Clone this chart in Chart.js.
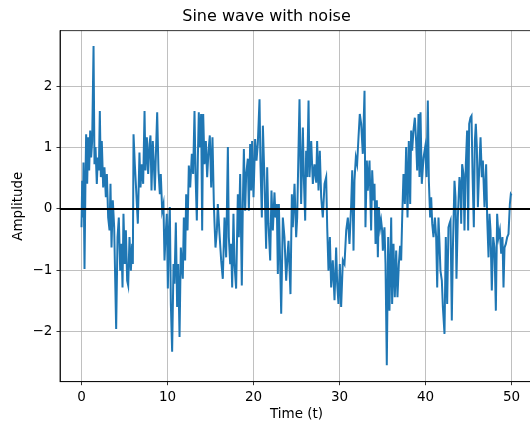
<!DOCTYPE html>
<html>
<head>
<meta charset="utf-8">
<script src="https://cdn.jsdelivr.net/npm/chart.js@4/dist/chart.umd.min.js"></script>
<style>
  html, body { margin: 0; padding: 0; background: #fff; }
  #wrap { width: 530px; height: 430px; overflow: hidden; }
</style>
</head>
<body>
<div id="wrap"><canvas id="sine_chart" width="545" height="430"></canvas></div>
<script>
// values
var time = [
  0, 0.08, 0.16, 0.23, 0.35, 0.47, 0.54, 0.66, 0.78, 0.89, 1.01, 1.12, 1.24, 1.40, 1.51, 1.63, 1.78, 1.90,
  2.02, 2.13, 2.25, 2.36, 2.52, 2.67, 2.83, 2.95, 3.10, 3.26, 3.37, 3.49, 3.64, 3.80, 4.03, 4.19, 4.34, 4.50,
  4.65, 4.77, 4.88, 5.04, 5.16, 5.31, 5.43, 5.58, 5.74, 5.89, 5.97, 6.05, 6.20, 6.36, 6.55,
  6.74, 6.86, 7.02, 7.17, 7.33, 7.44, 7.60, 7.75, 7.91, 8.02, 8.14, 8.29, 8.41, 8.53, 8.64, 8.80, 8.95,
  9.11, 9.22, 9.38, 9.53, 9.65, 9.77, 9.92, 10.04, 10.16, 10.27, 10.39, 10.54, 10.70, 10.81, 10.97, 11.12,
  11.24, 11.40, 11.55, 11.67, 11.78, 11.90, 12.05, 12.17, 12.33, 12.48, 12.64, 12.83, 12.98, 13.14, 13.26,
  13.41, 13.53, 13.64, 13.76, 13.91, 14.03, 14.15, 14.30, 14.46, 14.61, 14.77, 14.92, 15.08, 15.23, 15.39,
  15.47, 15.58, 15.74, 15.85, 16.05, 16.24, 16.43, 16.63, 16.82, 17.02, 17.13, 17.29, 17.40, 17.52, 17.67,
  17.79, 17.98, 18.18, 18.29, 18.45, 18.64, 18.76, 18.88, 19.03, 19.15, 19.34, 19.46, 19.61, 19.73, 19.84,
  20.00, 20.19, 20.35, 20.50, 20.70, 20.81, 20.97, 21.09, 21.28, 21.47, 21.59, 21.74, 21.94, 22.09, 22.25,
  22.44, 22.56, 22.71, 22.83, 22.95, 23.10, 23.22, 23.41, 23.60, 23.80, 23.99,
  24.07, 24.30, 24.46, 24.57, 24.77, 24.96, 25.08, 25.23, 25.35, 25.54, 25.74, 25.85, 26.01, 26.12, 26.24,
  26.40, 26.51, 26.71, 26.90, 27.09, 27.29, 27.40, 27.56, 27.71, 27.87, 28.06, 28.26, 28.45, 28.57, 28.72,
  28.88, 29.03, 29.22, 29.42, 29.61, 29.73, 29.88, 30.04, 30.19, 30.39, 30.58, 30.78, 30.97, 31.16, 31.36,
  31.48, 31.63, 31.74, 31.90, 32.05, 32.21, 32.36, 32.52,
  32.71, 32.91, 33.02, 33.18, 33.29, 33.49, 33.68, 33.80, 33.95, 34.07, 34.19, 34.34, 34.46, 34.57, 34.73,
  34.84, 34.96, 35.04, 35.23, 35.35, 35.50, 35.66, 35.81, 36.01, 36.12, 36.28, 36.43, 36.59, 36.74, 36.90,
  37.05, 37.17, 37.29, 37.44, 37.60, 37.75, 37.91, 38.06, 38.22, 38.33, 38.45, 38.60, 38.76, 38.91, 39.03,
  39.19, 39.30, 39.42, 39.57, 39.77, 39.96, 40.12, 40.27, 40.39, 40.54, 40.66, 40.78, 40.93, 41.09, 41.24,
  41.36, 41.51,
  41.63, 41.74, 41.90, 42.02, 42.21, 42.36, 42.52, 42.67, 42.79, 42.91, 43.06, 43.18, 43.37, 43.49, 43.60,
  43.76, 43.95, 44.07, 44.15, 44.26, 44.42, 44.53, 44.69, 44.84, 44.96, 45.08, 45.23, 45.35, 45.47, 45.62,
  45.74, 45.85, 45.97, 46.09, 46.24, 46.40, 46.55, 46.67, 46.86, 47.05, 47.17, 47.33, 47.44, 47.56, 47.71,
  47.87, 48.02, 48.18, 48.33, 48.49, 48.64, 48.80, 48.95, 49.07, 49.19, 49.34, 49.50, 49.65, 49.81, 49.92, 50
];
var amplitude = [
  -0.30, 0.46, -0.14, 0.76, -0.98, 0.57, 1.22, 0.41, 1.17, 0.63, 1.28, 0.84, 1.11, 2.66, 0.73, 1.01, 0.41, 0.84,
  0.63, 1.60, 0.52, 1.11, 0.35, 0.68, 0.19, 0.57, -0.14, -0.35, 0.41, -0.63, 0.14, -0.30, -1.96, -0.46, -0.14, -1.01,
  -0.57, -1.28, -0.08, -0.90, -0.35, -1.17, -1.25, -0.46, -1.01, -0.57, -0.90, 1.22, 0.73, 0.30, -0.24,
  0.92, 0.35, 0.73, 0.41, 1.60, 0.63, 1.17, 0.57, 1.06, 1.20, 0.30, 1.11, 0.73, 0.30, 0.84, 1.58, 0.63,
  0.24, 0.57, -0.03, 0.08, -0.84, -0.46, -0.08, -1.30, -0.35, 0.03, -1.55, -2.33, -0.90, -1.22, -0.22, -1.60,
  -0.90, -2.09, -0.63, -0.90, -1.14, -0.14, -0.84, 0.24, -0.35, 0.71, 0.35, 0.90, 0.57, 1.60, 0.57,
  -0.19, 0.84, 1.58, 1.01, 1.55, -0.35, 1.55, 0.73, 1.11, 0.52, 0.95, 1.20, 0.35, 1.17, 0.08,
  -0.24, -0.63, -0.35, 0.08, -0.41, -0.84, -1.14, -0.14, -0.79, 1.01, -0.46, -0.90, -0.57, -1.28, -0.08,
  -0.90, -1.30, 0.24, -0.46, 0.57, -1.25, 0.08, 0.98, -0.03, 0.57, 0.82, -0.03, 1.06, 0.30, 1.11,
  0.19, 1.14, 0.79, 1.06, 1.79, 0.73, -0.14, 1.36, 0.46, -0.65, 0.68, -0.24, -0.84, 0.30, -0.35,
  0.27, -0.14, 0.08, -1.06, 0.08, -0.90, -1.71, -0.14, -0.46, -1.17, -0.68,
  -0.52, -1.39, 0.24, -0.30, 0.41, -0.46, -0.14, 0.95, 1.79, 0.08, 1.33, 0.52, -0.19, 0.95, 0.52,
  1.77, 0.52, 1.11, 0.41, 0.73, 0.43, 1.11, 0.30, 0.95, 0.19, -0.14, 0.41, 0.52, -0.30, -1.01,
  -0.46, -1.28, -0.84, -1.49, -0.63, -1.22, -1.55, -0.90, -1.60, -0.84, -0.90, -0.35, -0.14, -0.57, 0.08,
  0.63, -0.68, 0.46, 0.84, 0.73, 1.17, 1.55, 1.39,
  0.90, 1.93, -0.30, 0.79, 0.30, 0.79, -0.35, 0.63, 0.14, 0.41, -0.57, 0.14, -0.79, 0.03, -0.30,
  -0.19, -0.35, -0.68, -0.30, -0.90, -2.55, -0.46, -1.66, -0.14, -1.55, -0.57, -1.44, -0.68, -1.44, -0.90,
  -0.60, -0.84, -0.14, 0.57, 0.08, 1.01, -0.14, 1.11, 0.08, 1.28, 0.95, 1.28, 1.49, 1.11, 0.63,
  1.55, 0.52, 1.58, 0.41, 0.84, 1.01, 0.52, 1.77, 0.46, -0.14, 0.19, -0.24, -0.46, -0.14, -0.46,
  -1.28, -0.14,
  -0.57, -1.01, -1.17, -1.60, -2.04, -0.46, -1.55, -0.30, -0.24, -0.19, -1.82, -0.68, 0.46, 0.19, -1.14,
  -0.14, 0.52, 0.35, -0.24, 0.73, 0.57, -0.35, 0.73, 1.28, -0.35, 1.39, 1.49, 1.52, 0.57, -0.30,
  1.11, 1.39, 1.01, 0.03, 0.63, 1.17, 0.52, 0.79, 0.03, 0.73, -0.14, -0.79, -0.08, -0.35, -1.33,
  -0.46, -0.63, -1.66, -0.08, -0.46, -0.35, -0.73, -0.46, -1.28, -0.63, -0.57, -0.46, -0.41, 0.08, 0.24, 0.22
];
var xTicks = [0, 10, 20, 30, 40, 50];
var yTicks = [-2, -1, 0, 1, 2];
var xRange = [-2.5, 52.5];
var yRange = [-2.82, 2.91];
var baseline = 0;

var points = time.map(function(t, i){ return {x: t, y: amplitude[i]}; });
var zeroLine = xRange.map(function(x){ return {x: x, y: baseline}; });

var font = 'DejaVu Sans';

// top spine, the right one falls off the picture anyway
var frame = {
  id: 'frame',
  afterDatasetsDraw: function(chart){
    var a = chart.chartArea, ctx = chart.ctx;
    ctx.save();
    ctx.strokeStyle = '#000';
    ctx.lineWidth = 0.8;
    ctx.strokeRect(a.left, a.top, a.right - a.left, a.bottom - a.top);
    ctx.restore();
  }
};

function minus(v){ return String(v).replace('-', '\u2212'); }

new Chart(document.getElementById('sine_chart'), {
  type: 'line',
  data: {
    datasets: [{
      data: zeroLine,
      borderColor: '#000',
      borderWidth: 2,
      pointRadius: 0,
      order: 0
    }, {
      data: points,
      borderColor: '#1f77b4',
      borderWidth: 2,
      pointRadius: 0,
      tension: 0,
      order: 1
    }]
  },
  options: {
    responsive: false,
    animation: false,
    events: [],
    layout: { padding: { left: 0, right: 12, top: 0, bottom: 0 } },
    plugins: {
      legend: { display: false },
      tooltip: { enabled: false },
      title: {
        display: true,
        text: 'Sine wave with noise',
        color: '#000',
        font: { family: font, size: 16, weight: 'normal', lineHeight: 1.2 },
        padding: { top: 6.9, bottom: 4.6 }
      }
    },
    scales: {
      x: {
        type: 'linear',
        min: xRange[0],
        max: xRange[1],
        afterBuildTicks: function(s){ s.ticks = xTicks.map(function(v){ return {value: v}; }); },
        afterFit: function(s){ s.height = 48.3; },
        ticks: {
          color: '#000', padding: 4, maxRotation: 0,
          font: { family: font, size: 13.5 },
          callback: function(v){ return minus(v); }
        },
        grid: { color: '#b0b0b0', lineWidth: 0.8, drawTicks: true, tickLength: 3.5, tickColor: '#000', tickWidth: 0.8 },
        border: { color: '#000', width: 0.8 },
        title: {
          display: true, text: 'Time (t)', color: '#000',
          font: { family: font, size: 13.5, lineHeight: 1.2 },
          padding: { top: 0, bottom: 7.4 }
        }
      },
      y: {
        type: 'linear',
        min: yRange[0],
        max: yRange[1],
        afterBuildTicks: function(s){ s.ticks = yTicks.map(function(v){ return {value: v}; }); },
        afterFit: function(s){ s.width = 60; },
        ticks: {
          color: '#000', padding: 4.2,
          font: { family: font, size: 13.5 },
          callback: function(v){ return minus(v); }
        },
        grid: { color: '#b0b0b0', lineWidth: 0.8, drawTicks: true, tickLength: 3.5, tickColor: '#000', tickWidth: 0.8 },
        border: { color: '#000', width: 0.8 },
        title: {
          display: true, text: 'Amplitude', color: '#000',
          font: { family: font, size: 13.5, lineHeight: 1.2 },
          padding: { top: 10.4, bottom: 0 }
        }
      }
    }
  },
  plugins: [frame]
});
</script>
</body>
</html>
